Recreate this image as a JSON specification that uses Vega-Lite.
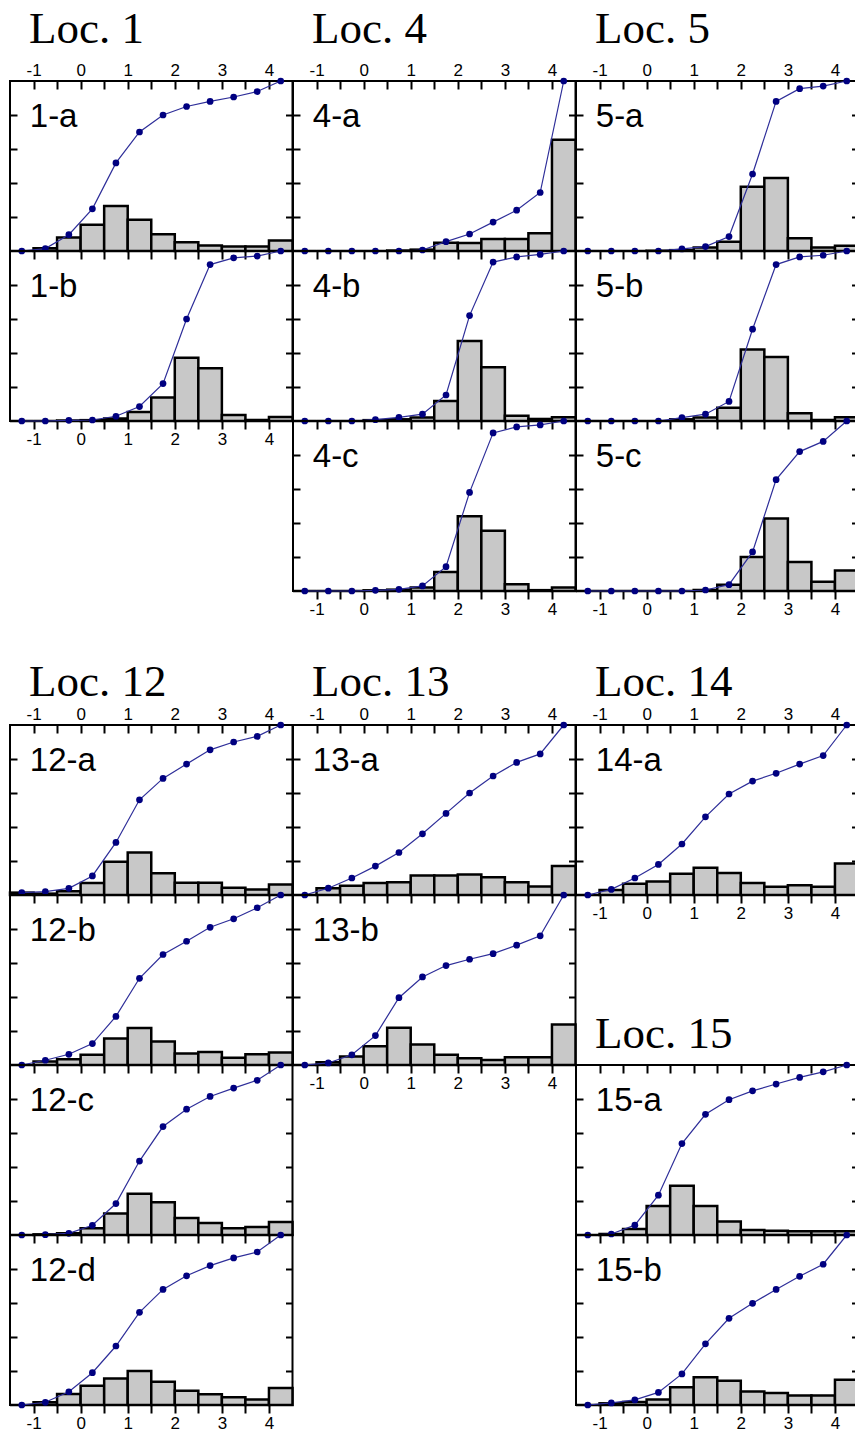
{
"$schema":"https://vega.github.io/schema/vega-lite/v6.json",
"padding":{"left":7,"top":6,"right":0,"bottom":0},
"background":"white",
"datasets":{"d":[
{"p":"1-a","lo":-1.5,"hi":-1,"m":-1.25,"h":0,"c":0},{"p":"1-a","lo":-1,"hi":-0.5,"m":-0.75,"h":1.6,"c":1.4},{"p":"1-a","lo":-0.5,"hi":0,"m":-0.25,"h":8,"c":9.6},{"p":"1-a","lo":0,"hi":0.5,"m":0.25,"h":15.4,"c":24.8},{"p":"1-a","lo":0.5,"hi":1,"m":0.75,"h":26.5,"c":51.8},{"p":"1-a","lo":1,"hi":1.5,"m":1.25,"h":18.4,"c":70},{"p":"1-a","lo":1.5,"hi":2,"m":1.75,"h":9.8,"c":80},{"p":"1-a","lo":2,"hi":2.5,"m":2.25,"h":5.2,"c":85},{"p":"1-a","lo":2.5,"hi":3,"m":2.75,"h":3.3,"c":88},{"p":"1-a","lo":3,"hi":3.5,"m":3.25,"h":2.6,"c":90.6},{"p":"1-a","lo":3.5,"hi":4,"m":3.75,"h":2.6,"c":93.8},{"p":"1-a","lo":4,"hi":4.5,"m":4.25,"h":6.2,"c":100},
{"p":"1-b","lo":-1.5,"hi":-1,"m":-1.25,"h":0,"c":0},{"p":"1-b","lo":-1,"hi":-0.5,"m":-0.75,"h":0,"c":0},{"p":"1-b","lo":-0.5,"hi":0,"m":-0.25,"h":0.3,"c":0.4},{"p":"1-b","lo":0,"hi":0.5,"m":0.25,"h":0.5,"c":0.6},{"p":"1-b","lo":0.5,"hi":1,"m":0.75,"h":1.5,"c":2.8},{"p":"1-b","lo":1,"hi":1.5,"m":1.25,"h":5.3,"c":8.5},{"p":"1-b","lo":1.5,"hi":2,"m":1.75,"h":13.8,"c":22},{"p":"1-b","lo":2,"hi":2.5,"m":2.25,"h":37.2,"c":60},{"p":"1-b","lo":2.5,"hi":3,"m":2.75,"h":31,"c":92},{"p":"1-b","lo":3,"hi":3.5,"m":3.25,"h":3.5,"c":96},{"p":"1-b","lo":3.5,"hi":4,"m":3.75,"h":0.6,"c":97},{"p":"1-b","lo":4,"hi":4.5,"m":4.25,"h":2.4,"c":100},
{"p":"4-a","lo":-1.5,"hi":-1,"m":-1.25,"h":0,"c":0},{"p":"4-a","lo":-1,"hi":-0.5,"m":-0.75,"h":0,"c":0},{"p":"4-a","lo":-0.5,"hi":0,"m":-0.25,"h":0,"c":0},{"p":"4-a","lo":0,"hi":0.5,"m":0.25,"h":0,"c":0},{"p":"4-a","lo":0.5,"hi":1,"m":0.75,"h":0.3,"c":0},{"p":"4-a","lo":1,"hi":1.5,"m":1.25,"h":0.8,"c":0.6},{"p":"4-a","lo":1.5,"hi":2,"m":1.75,"h":4.9,"c":5.5},{"p":"4-a","lo":2,"hi":2.5,"m":2.25,"h":4.7,"c":10},{"p":"4-a","lo":2.5,"hi":3,"m":2.75,"h":7,"c":17},{"p":"4-a","lo":3,"hi":3.5,"m":3.25,"h":7,"c":24},{"p":"4-a","lo":3.5,"hi":4,"m":3.75,"h":10.5,"c":34.4},{"p":"4-a","lo":4,"hi":4.5,"m":4.25,"h":65.5,"c":100},
{"p":"4-b","lo":-1.5,"hi":-1,"m":-1.25,"h":0,"c":0},{"p":"4-b","lo":-1,"hi":-0.5,"m":-0.75,"h":0,"c":0},{"p":"4-b","lo":-0.5,"hi":0,"m":-0.25,"h":0,"c":0},{"p":"4-b","lo":0,"hi":0.5,"m":0.25,"h":0.5,"c":0.8},{"p":"4-b","lo":0.5,"hi":1,"m":0.75,"h":1,"c":2.1},{"p":"4-b","lo":1,"hi":1.5,"m":1.25,"h":2,"c":4},{"p":"4-b","lo":1.5,"hi":2,"m":1.75,"h":11.7,"c":15.3},{"p":"4-b","lo":2,"hi":2.5,"m":2.25,"h":47,"c":62},{"p":"4-b","lo":2.5,"hi":3,"m":2.75,"h":31.6,"c":93.5},{"p":"4-b","lo":3,"hi":3.5,"m":3.25,"h":3.1,"c":96.5},{"p":"4-b","lo":3.5,"hi":4,"m":3.75,"h":1.2,"c":98},{"p":"4-b","lo":4,"hi":4.5,"m":4.25,"h":2.2,"c":100},
{"p":"4-c","lo":-1.5,"hi":-1,"m":-1.25,"h":0,"c":0},{"p":"4-c","lo":-1,"hi":-0.5,"m":-0.75,"h":0,"c":0},{"p":"4-c","lo":-0.5,"hi":0,"m":-0.25,"h":0,"c":0},{"p":"4-c","lo":0,"hi":0.5,"m":0.25,"h":0.4,"c":0.4},{"p":"4-c","lo":0.5,"hi":1,"m":0.75,"h":0.8,"c":1},{"p":"4-c","lo":1,"hi":1.5,"m":1.25,"h":2,"c":3},{"p":"4-c","lo":1.5,"hi":2,"m":1.75,"h":11.2,"c":14.3},{"p":"4-c","lo":2,"hi":2.5,"m":2.25,"h":44,"c":58},{"p":"4-c","lo":2.5,"hi":3,"m":2.75,"h":35.4,"c":93},{"p":"4-c","lo":3,"hi":3.5,"m":3.25,"h":4,"c":96.5},{"p":"4-c","lo":3.5,"hi":4,"m":3.75,"h":0.5,"c":97.7},{"p":"4-c","lo":4,"hi":4.5,"m":4.25,"h":2,"c":100},
{"p":"5-a","lo":-1.5,"hi":-1,"m":-1.25,"h":0,"c":0},{"p":"5-a","lo":-1,"hi":-0.5,"m":-0.75,"h":0,"c":0},{"p":"5-a","lo":-0.5,"hi":0,"m":-0.25,"h":0,"c":0},{"p":"5-a","lo":0,"hi":0.5,"m":0.25,"h":0.2,"c":0},{"p":"5-a","lo":0.5,"hi":1,"m":0.75,"h":0.5,"c":1.2},{"p":"5-a","lo":1,"hi":1.5,"m":1.25,"h":2,"c":2.6},{"p":"5-a","lo":1.5,"hi":2,"m":1.75,"h":5.5,"c":8.5},{"p":"5-a","lo":2,"hi":2.5,"m":2.25,"h":37.8,"c":45.3},{"p":"5-a","lo":2.5,"hi":3,"m":2.75,"h":43,"c":88},{"p":"5-a","lo":3,"hi":3.5,"m":3.25,"h":7.5,"c":95.5},{"p":"5-a","lo":3.5,"hi":4,"m":3.75,"h":2,"c":97},{"p":"5-a","lo":4,"hi":4.5,"m":4.25,"h":3.1,"c":100},
{"p":"5-b","lo":-1.5,"hi":-1,"m":-1.25,"h":0,"c":0},{"p":"5-b","lo":-1,"hi":-0.5,"m":-0.75,"h":0,"c":0},{"p":"5-b","lo":-0.5,"hi":0,"m":-0.25,"h":0,"c":0},{"p":"5-b","lo":0,"hi":0.5,"m":0.25,"h":0,"c":0},{"p":"5-b","lo":0.5,"hi":1,"m":0.75,"h":1,"c":2},{"p":"5-b","lo":1,"hi":1.5,"m":1.25,"h":2,"c":4},{"p":"5-b","lo":1.5,"hi":2,"m":1.75,"h":7.8,"c":11.5},{"p":"5-b","lo":2,"hi":2.5,"m":2.25,"h":42,"c":54},{"p":"5-b","lo":2.5,"hi":3,"m":2.75,"h":37.6,"c":92},{"p":"5-b","lo":3,"hi":3.5,"m":3.25,"h":4.5,"c":96.5},{"p":"5-b","lo":3.5,"hi":4,"m":3.75,"h":0.6,"c":97.5},{"p":"5-b","lo":4,"hi":4.5,"m":4.25,"h":2.2,"c":100},
{"p":"5-c","lo":-1.5,"hi":-1,"m":-1.25,"h":0,"c":0},{"p":"5-c","lo":-1,"hi":-0.5,"m":-0.75,"h":0,"c":0},{"p":"5-c","lo":-0.5,"hi":0,"m":-0.25,"h":0,"c":0},{"p":"5-c","lo":0,"hi":0.5,"m":0.25,"h":0,"c":0},{"p":"5-c","lo":0.5,"hi":1,"m":0.75,"h":0,"c":0},{"p":"5-c","lo":1,"hi":1.5,"m":1.25,"h":0.6,"c":0.6},{"p":"5-c","lo":1.5,"hi":2,"m":1.75,"h":3.7,"c":3.7},{"p":"5-c","lo":2,"hi":2.5,"m":2.25,"h":20,"c":23},{"p":"5-c","lo":2.5,"hi":3,"m":2.75,"h":42.7,"c":65.5},{"p":"5-c","lo":3,"hi":3.5,"m":3.25,"h":17,"c":82},{"p":"5-c","lo":3.5,"hi":4,"m":3.75,"h":5.5,"c":88},{"p":"5-c","lo":4,"hi":4.5,"m":4.25,"h":12,"c":100},
{"p":"12-a","lo":-1.5,"hi":-1,"m":-1.25,"h":1.4,"c":1.4},{"p":"12-a","lo":-1,"hi":-0.5,"m":-0.75,"h":0.8,"c":2},{"p":"12-a","lo":-0.5,"hi":0,"m":-0.25,"h":2.2,"c":3.9},{"p":"12-a","lo":0,"hi":0.5,"m":0.25,"h":7,"c":11.2},{"p":"12-a","lo":0.5,"hi":1,"m":0.75,"h":19.6,"c":30.9},{"p":"12-a","lo":1,"hi":1.5,"m":1.25,"h":25,"c":56},{"p":"12-a","lo":1.5,"hi":2,"m":1.75,"h":12.8,"c":68.6},{"p":"12-a","lo":2,"hi":2.5,"m":2.25,"h":7.2,"c":77},{"p":"12-a","lo":2.5,"hi":3,"m":2.75,"h":7.2,"c":85.4},{"p":"12-a","lo":3,"hi":3.5,"m":3.25,"h":4.3,"c":90},{"p":"12-a","lo":3.5,"hi":4,"m":3.75,"h":3.2,"c":93.3},{"p":"12-a","lo":4,"hi":4.5,"m":4.25,"h":6.2,"c":100},
{"p":"12-b","lo":-1.5,"hi":-1,"m":-1.25,"h":0,"c":0},{"p":"12-b","lo":-1,"hi":-0.5,"m":-0.75,"h":2,"c":2.8},{"p":"12-b","lo":-0.5,"hi":0,"m":-0.25,"h":3.4,"c":6.3},{"p":"12-b","lo":0,"hi":0.5,"m":0.25,"h":6,"c":12.6},{"p":"12-b","lo":0.5,"hi":1,"m":0.75,"h":15.6,"c":28.6},{"p":"12-b","lo":1,"hi":1.5,"m":1.25,"h":21.7,"c":51},{"p":"12-b","lo":1.5,"hi":2,"m":1.75,"h":13.8,"c":65},{"p":"12-b","lo":2,"hi":2.5,"m":2.25,"h":6.7,"c":72.8},{"p":"12-b","lo":2.5,"hi":3,"m":2.75,"h":7.7,"c":81},{"p":"12-b","lo":3,"hi":3.5,"m":3.25,"h":4.3,"c":86},{"p":"12-b","lo":3.5,"hi":4,"m":3.75,"h":6.3,"c":92.5},{"p":"12-b","lo":4,"hi":4.5,"m":4.25,"h":7.3,"c":100},
{"p":"12-c","lo":-1.5,"hi":-1,"m":-1.25,"h":0,"c":0},{"p":"12-c","lo":-1,"hi":-0.5,"m":-0.75,"h":0.4,"c":0.2},{"p":"12-c","lo":-0.5,"hi":0,"m":-0.25,"h":1,"c":1},{"p":"12-c","lo":0,"hi":0.5,"m":0.25,"h":4,"c":5.7},{"p":"12-c","lo":0.5,"hi":1,"m":0.75,"h":12.6,"c":18.5},{"p":"12-c","lo":1,"hi":1.5,"m":1.25,"h":24.2,"c":43.5},{"p":"12-c","lo":1.5,"hi":2,"m":1.75,"h":19.3,"c":63.8},{"p":"12-c","lo":2,"hi":2.5,"m":2.25,"h":10,"c":74},{"p":"12-c","lo":2.5,"hi":3,"m":2.75,"h":7,"c":81.5},{"p":"12-c","lo":3,"hi":3.5,"m":3.25,"h":4,"c":86.4},{"p":"12-c","lo":3.5,"hi":4,"m":3.75,"h":4.7,"c":91},{"p":"12-c","lo":4,"hi":4.5,"m":4.25,"h":7.7,"c":100},
{"p":"12-d","lo":-1.5,"hi":-1,"m":-1.25,"h":0,"c":0},{"p":"12-d","lo":-1,"hi":-0.5,"m":-0.75,"h":1.6,"c":1.6},{"p":"12-d","lo":-0.5,"hi":0,"m":-0.25,"h":6.4,"c":7.8},{"p":"12-d","lo":0,"hi":0.5,"m":0.25,"h":11.3,"c":19},{"p":"12-d","lo":0.5,"hi":1,"m":0.75,"h":15.6,"c":34.7},{"p":"12-d","lo":1,"hi":1.5,"m":1.25,"h":20,"c":54.5},{"p":"12-d","lo":1.5,"hi":2,"m":1.75,"h":13.7,"c":68},{"p":"12-d","lo":2,"hi":2.5,"m":2.25,"h":8.4,"c":76},{"p":"12-d","lo":2.5,"hi":3,"m":2.75,"h":6.3,"c":82},{"p":"12-d","lo":3,"hi":3.5,"m":3.25,"h":4.5,"c":86.5},{"p":"12-d","lo":3.5,"hi":4,"m":3.75,"h":3.3,"c":90},{"p":"12-d","lo":4,"hi":4.5,"m":4.25,"h":10,"c":100},
{"p":"13-a","lo":-1.5,"hi":-1,"m":-1.25,"h":0,"c":0},{"p":"13-a","lo":-1,"hi":-0.5,"m":-0.75,"h":4,"c":4},{"p":"13-a","lo":-0.5,"hi":0,"m":-0.25,"h":5.5,"c":10},{"p":"13-a","lo":0,"hi":0.5,"m":0.25,"h":7,"c":17},{"p":"13-a","lo":0.5,"hi":1,"m":0.75,"h":7.5,"c":25},{"p":"13-a","lo":1,"hi":1.5,"m":1.25,"h":11.5,"c":36},{"p":"13-a","lo":1.5,"hi":2,"m":1.75,"h":11.5,"c":48},{"p":"13-a","lo":2,"hi":2.5,"m":2.25,"h":12,"c":60},{"p":"13-a","lo":2.5,"hi":3,"m":2.75,"h":10.5,"c":70},{"p":"13-a","lo":3,"hi":3.5,"m":3.25,"h":7.5,"c":78},{"p":"13-a","lo":3.5,"hi":4,"m":3.75,"h":5,"c":83},{"p":"13-a","lo":4,"hi":4.5,"m":4.25,"h":17,"c":100},
{"p":"13-b","lo":-1.5,"hi":-1,"m":-1.25,"h":0,"c":0},{"p":"13-b","lo":-1,"hi":-0.5,"m":-0.75,"h":1.6,"c":1.2},{"p":"13-b","lo":-0.5,"hi":0,"m":-0.25,"h":5,"c":6},{"p":"13-b","lo":0,"hi":0.5,"m":0.25,"h":11,"c":17.3},{"p":"13-b","lo":0.5,"hi":1,"m":0.75,"h":21.9,"c":39.6},{"p":"13-b","lo":1,"hi":1.5,"m":1.25,"h":12,"c":51.8},{"p":"13-b","lo":1.5,"hi":2,"m":1.75,"h":6,"c":58.5},{"p":"13-b","lo":2,"hi":2.5,"m":2.25,"h":4,"c":62.2},{"p":"13-b","lo":2.5,"hi":3,"m":2.75,"h":3,"c":65.5},{"p":"13-b","lo":3,"hi":3.5,"m":3.25,"h":4.5,"c":70.5},{"p":"13-b","lo":3.5,"hi":4,"m":3.75,"h":4.5,"c":76},{"p":"13-b","lo":4,"hi":4.5,"m":4.25,"h":23.8,"c":100},
{"p":"14-a","lo":-1.5,"hi":-1,"m":-1.25,"h":0,"c":0},{"p":"14-a","lo":-1,"hi":-0.5,"m":-0.75,"h":3,"c":3.3},{"p":"14-a","lo":-0.5,"hi":0,"m":-0.25,"h":6.6,"c":10},{"p":"14-a","lo":0,"hi":0.5,"m":0.25,"h":8,"c":18},{"p":"14-a","lo":0.5,"hi":1,"m":0.75,"h":12.5,"c":30},{"p":"14-a","lo":1,"hi":1.5,"m":1.25,"h":16,"c":46},{"p":"14-a","lo":1.5,"hi":2,"m":1.75,"h":13,"c":59.4},{"p":"14-a","lo":2,"hi":2.5,"m":2.25,"h":7,"c":67},{"p":"14-a","lo":2.5,"hi":3,"m":2.75,"h":4.8,"c":71.6},{"p":"14-a","lo":3,"hi":3.5,"m":3.25,"h":5.7,"c":77},{"p":"14-a","lo":3.5,"hi":4,"m":3.75,"h":4.8,"c":82},{"p":"14-a","lo":4,"hi":4.5,"m":4.25,"h":18.5,"c":100},
{"p":"15-a","lo":-1.5,"hi":-1,"m":-1.25,"h":0,"c":0},{"p":"15-a","lo":-1,"hi":-0.5,"m":-0.75,"h":0.6,"c":0.6},{"p":"15-a","lo":-0.5,"hi":0,"m":-0.25,"h":3.5,"c":5.8},{"p":"15-a","lo":0,"hi":0.5,"m":0.25,"h":17,"c":23.4},{"p":"15-a","lo":0.5,"hi":1,"m":0.75,"h":29,"c":53.8},{"p":"15-a","lo":1,"hi":1.5,"m":1.25,"h":17,"c":71},{"p":"15-a","lo":1.5,"hi":2,"m":1.75,"h":8,"c":79.6},{"p":"15-a","lo":2,"hi":2.5,"m":2.25,"h":3,"c":84.8},{"p":"15-a","lo":2.5,"hi":3,"m":2.75,"h":2.5,"c":88.8},{"p":"15-a","lo":3,"hi":3.5,"m":3.25,"h":2.2,"c":92.7},{"p":"15-a","lo":3.5,"hi":4,"m":3.75,"h":2.2,"c":96},{"p":"15-a","lo":4,"hi":4.5,"m":4.25,"h":2.2,"c":100},
{"p":"15-b","lo":-1.5,"hi":-1,"m":-1.25,"h":0,"c":0},{"p":"15-b","lo":-1,"hi":-0.5,"m":-0.75,"h":1,"c":1.2},{"p":"15-b","lo":-0.5,"hi":0,"m":-0.25,"h":1.8,"c":3},{"p":"15-b","lo":0,"hi":0.5,"m":0.25,"h":3.3,"c":7.4},{"p":"15-b","lo":0.5,"hi":1,"m":0.75,"h":10.4,"c":18.3},{"p":"15-b","lo":1,"hi":1.5,"m":1.25,"h":16.3,"c":36},{"p":"15-b","lo":1.5,"hi":2,"m":1.75,"h":14.2,"c":51},{"p":"15-b","lo":2,"hi":2.5,"m":2.25,"h":8,"c":59.8},{"p":"15-b","lo":2.5,"hi":3,"m":2.75,"h":7.1,"c":68},{"p":"15-b","lo":3,"hi":3.5,"m":3.25,"h":5.6,"c":75.7},{"p":"15-b","lo":3.5,"hi":4,"m":3.75,"h":5.6,"c":82.8},{"p":"15-b","lo":4,"hi":4.5,"m":4.25,"h":14.8,"c":100}
]},
"config":{
"view":{"stroke":"black","strokeWidth":2},
"axis":{"domain":false,"grid":false,"tickColor":"black","tickWidth":2,"labelFont":"Liberation Sans","labelFontSize":17,"labelColor":"black","zindex":1,"labelFlush":false,"labelOverlap":false},
"axisTop":{"tickSize":-8,"labelPadding":10},
"axisBottom":{"tickSize":8,"labelPadding":2},
"axisLeft":{"tickSize":-7,"labels":false,"minExtent":0,"maxExtent":0},
"axisRight":{"tickSize":-7,"labels":false,"minExtent":0,"maxExtent":0},
"title":{"font":"Liberation Serif","fontSize":45,"fontWeight":"normal","anchor":"start","frame":"group","dx":19,"color":"black","baseline":"alphabetic"}
},
"spacing":41,
"vconcat":[
{"columns":3,"spacing":0,"bounds":"flush","concat":[
{"title":{"text":"Loc. 1","offset":9},"width":282.5,"height":170,"data":{"name":"d"},"transform":[{"filter":"datum.p=='1-a'"}],"layer":[
{"mark":{"type":"rect","fill":"#c8c8c8","stroke":"black","strokeWidth":2.5},"encoding":{"x":{"field":"lo","type":"quantitative","scale":{"domain":[-1.5,4.5],"nice":false},"axis":{"orient":"top","values":[-1,-0.5,0,0.5,1,1.5,2,2.5,3,3.5,4],"labelExpr":"datum.value % 1 == 0 ? '' + datum.value : ''","title":null}},"x2":{"field":"hi"},"y":{"field":"h","type":"quantitative","scale":{"domain":[0,100],"nice":false},"axis":{"orient":"left","values":[20,40,60,80],"title":null}},"y2":{"datum":0}}},
{"mark":{"type":"line","color":"#2e2e99","strokeWidth":1.2},"encoding":{"x":{"field":"m","type":"quantitative","scale":{"domain":[-1.5,4.5],"nice":false},"axis":null},"y":{"field":"c","type":"quantitative","scale":{"domain":[0,100],"nice":false},"axis":{"orient":"right","values":[20,40,60,80],"title":null}}}},
{"mark":{"type":"point","filled":true,"color":"#000080","size":45,"opacity":1},"encoding":{"x":{"field":"m","type":"quantitative","axis":null},"y":{"field":"c","type":"quantitative","axis":null}}},
{"data":{"values":[{"t":"1-a"}]},"mark":{"type":"text","font":"Liberation Sans","fontSize":33,"align":"left","baseline":"middle","color":"black"},"encoding":{"text":{"field":"t"},"x":{"datum":-1.08,"axis":null},"y":{"datum":79,"axis":null}}}
],"resolve":{"axis":{"x":"independent","y":"independent"}}},
{"title":{"text":"Loc. 4","offset":9},"width":282.5,"height":170,"data":{"name":"d"},"transform":[{"filter":"datum.p=='4-a'"}],"layer":[
{"mark":{"type":"rect","fill":"#c8c8c8","stroke":"black","strokeWidth":2.5},"encoding":{"x":{"field":"lo","type":"quantitative","scale":{"domain":[-1.5,4.5],"nice":false},"axis":{"orient":"top","values":[-1,-0.5,0,0.5,1,1.5,2,2.5,3,3.5,4],"labelExpr":"datum.value % 1 == 0 ? '' + datum.value : ''","title":null}},"x2":{"field":"hi"},"y":{"field":"h","type":"quantitative","scale":{"domain":[0,100],"nice":false},"axis":{"orient":"left","values":[20,40,60,80],"title":null}},"y2":{"datum":0}}},
{"mark":{"type":"line","color":"#2e2e99","strokeWidth":1.2},"encoding":{"x":{"field":"m","type":"quantitative","scale":{"domain":[-1.5,4.5],"nice":false},"axis":null},"y":{"field":"c","type":"quantitative","scale":{"domain":[0,100],"nice":false},"axis":{"orient":"right","values":[20,40,60,80],"title":null}}}},
{"mark":{"type":"point","filled":true,"color":"#000080","size":45,"opacity":1},"encoding":{"x":{"field":"m","type":"quantitative","axis":null},"y":{"field":"c","type":"quantitative","axis":null}}},
{"data":{"values":[{"t":"4-a"}]},"mark":{"type":"text","font":"Liberation Sans","fontSize":33,"align":"left","baseline":"middle","color":"black"},"encoding":{"text":{"field":"t"},"x":{"datum":-1.08,"axis":null},"y":{"datum":79,"axis":null}}}
],"resolve":{"axis":{"x":"independent","y":"independent"}}},
{"title":{"text":"Loc. 5","offset":9},"width":282.5,"height":170,"data":{"name":"d"},"transform":[{"filter":"datum.p=='5-a'"}],"layer":[
{"mark":{"type":"rect","fill":"#c8c8c8","stroke":"black","strokeWidth":2.5},"encoding":{"x":{"field":"lo","type":"quantitative","scale":{"domain":[-1.5,4.5],"nice":false},"axis":{"orient":"top","values":[-1,-0.5,0,0.5,1,1.5,2,2.5,3,3.5,4],"labelExpr":"datum.value % 1 == 0 ? '' + datum.value : ''","title":null}},"x2":{"field":"hi"},"y":{"field":"h","type":"quantitative","scale":{"domain":[0,100],"nice":false},"axis":{"orient":"left","values":[20,40,60,80],"title":null}},"y2":{"datum":0}}},
{"mark":{"type":"line","color":"#2e2e99","strokeWidth":1.2},"encoding":{"x":{"field":"m","type":"quantitative","scale":{"domain":[-1.5,4.5],"nice":false},"axis":null},"y":{"field":"c","type":"quantitative","scale":{"domain":[0,100],"nice":false},"axis":{"orient":"right","values":[20,40,60,80],"title":null}}}},
{"mark":{"type":"point","filled":true,"color":"#000080","size":45,"opacity":1},"encoding":{"x":{"field":"m","type":"quantitative","axis":null},"y":{"field":"c","type":"quantitative","axis":null}}},
{"data":{"values":[{"t":"5-a"}]},"mark":{"type":"text","font":"Liberation Sans","fontSize":33,"align":"left","baseline":"middle","color":"black"},"encoding":{"text":{"field":"t"},"x":{"datum":-1.08,"axis":null},"y":{"datum":79,"axis":null}}}
],"resolve":{"axis":{"x":"independent","y":"independent"}}},
{"width":282.5,"height":170,"data":{"name":"d"},"transform":[{"filter":"datum.p=='1-b'"}],"layer":[
{"mark":{"type":"rect","fill":"#c8c8c8","stroke":"black","strokeWidth":2.5},"encoding":{"x":{"field":"lo","type":"quantitative","scale":{"domain":[-1.5,4.5],"nice":false},"axis":{"orient":"top","values":[-1,-0.5,0,0.5,1,1.5,2,2.5,3,3.5,4],"labels":false,"title":null}},"x2":{"field":"hi"},"y":{"field":"h","type":"quantitative","scale":{"domain":[0,100],"nice":false},"axis":{"orient":"left","values":[20,40,60,80],"title":null}},"y2":{"datum":0}}},
{"mark":{"type":"line","color":"#2e2e99","strokeWidth":1.2},"encoding":{"x":{"field":"m","type":"quantitative","scale":{"domain":[-1.5,4.5],"nice":false},"axis":{"orient":"bottom","values":[-1,-0.5,0,0.5,1,1.5,2,2.5,3,3.5,4],"labelExpr":"datum.value % 1 == 0 ? '' + datum.value : ''","title":null}},"y":{"field":"c","type":"quantitative","scale":{"domain":[0,100],"nice":false},"axis":{"orient":"right","values":[20,40,60,80],"title":null}}}},
{"mark":{"type":"point","filled":true,"color":"#000080","size":45,"opacity":1},"encoding":{"x":{"field":"m","type":"quantitative","axis":null},"y":{"field":"c","type":"quantitative","axis":null}}},
{"data":{"values":[{"t":"1-b"}]},"mark":{"type":"text","font":"Liberation Sans","fontSize":33,"align":"left","baseline":"middle","color":"black"},"encoding":{"text":{"field":"t"},"x":{"datum":-1.08,"axis":null},"y":{"datum":79,"axis":null}}}
],"resolve":{"axis":{"x":"independent","y":"independent"}}},
{"width":282.5,"height":170,"data":{"name":"d"},"transform":[{"filter":"datum.p=='4-b'"}],"layer":[
{"mark":{"type":"rect","fill":"#c8c8c8","stroke":"black","strokeWidth":2.5},"encoding":{"x":{"field":"lo","type":"quantitative","scale":{"domain":[-1.5,4.5],"nice":false},"axis":{"orient":"top","values":[-1,-0.5,0,0.5,1,1.5,2,2.5,3,3.5,4],"labels":false,"title":null}},"x2":{"field":"hi"},"y":{"field":"h","type":"quantitative","scale":{"domain":[0,100],"nice":false},"axis":{"orient":"left","values":[20,40,60,80],"title":null}},"y2":{"datum":0}}},
{"mark":{"type":"line","color":"#2e2e99","strokeWidth":1.2},"encoding":{"x":{"field":"m","type":"quantitative","scale":{"domain":[-1.5,4.5],"nice":false},"axis":null},"y":{"field":"c","type":"quantitative","scale":{"domain":[0,100],"nice":false},"axis":{"orient":"right","values":[20,40,60,80],"title":null}}}},
{"mark":{"type":"point","filled":true,"color":"#000080","size":45,"opacity":1},"encoding":{"x":{"field":"m","type":"quantitative","axis":null},"y":{"field":"c","type":"quantitative","axis":null}}},
{"data":{"values":[{"t":"4-b"}]},"mark":{"type":"text","font":"Liberation Sans","fontSize":33,"align":"left","baseline":"middle","color":"black"},"encoding":{"text":{"field":"t"},"x":{"datum":-1.08,"axis":null},"y":{"datum":79,"axis":null}}}
],"resolve":{"axis":{"x":"independent","y":"independent"}}},
{"width":282.5,"height":170,"data":{"name":"d"},"transform":[{"filter":"datum.p=='5-b'"}],"layer":[
{"mark":{"type":"rect","fill":"#c8c8c8","stroke":"black","strokeWidth":2.5},"encoding":{"x":{"field":"lo","type":"quantitative","scale":{"domain":[-1.5,4.5],"nice":false},"axis":{"orient":"top","values":[-1,-0.5,0,0.5,1,1.5,2,2.5,3,3.5,4],"labels":false,"title":null}},"x2":{"field":"hi"},"y":{"field":"h","type":"quantitative","scale":{"domain":[0,100],"nice":false},"axis":{"orient":"left","values":[20,40,60,80],"title":null}},"y2":{"datum":0}}},
{"mark":{"type":"line","color":"#2e2e99","strokeWidth":1.2},"encoding":{"x":{"field":"m","type":"quantitative","scale":{"domain":[-1.5,4.5],"nice":false},"axis":null},"y":{"field":"c","type":"quantitative","scale":{"domain":[0,100],"nice":false},"axis":{"orient":"right","values":[20,40,60,80],"title":null}}}},
{"mark":{"type":"point","filled":true,"color":"#000080","size":45,"opacity":1},"encoding":{"x":{"field":"m","type":"quantitative","axis":null},"y":{"field":"c","type":"quantitative","axis":null}}},
{"data":{"values":[{"t":"5-b"}]},"mark":{"type":"text","font":"Liberation Sans","fontSize":33,"align":"left","baseline":"middle","color":"black"},"encoding":{"text":{"field":"t"},"x":{"datum":-1.08,"axis":null},"y":{"datum":79,"axis":null}}}
],"resolve":{"axis":{"x":"independent","y":"independent"}}},
{"width":282.5,"height":170,"view":{"stroke":null},"data":{"values":[]},"mark":{"type":"point"},"encoding":{}},
{"width":282.5,"height":170,"data":{"name":"d"},"transform":[{"filter":"datum.p=='4-c'"}],"layer":[
{"mark":{"type":"rect","fill":"#c8c8c8","stroke":"black","strokeWidth":2.5},"encoding":{"x":{"field":"lo","type":"quantitative","scale":{"domain":[-1.5,4.5],"nice":false},"axis":{"orient":"top","values":[-1,-0.5,0,0.5,1,1.5,2,2.5,3,3.5,4],"labels":false,"title":null}},"x2":{"field":"hi"},"y":{"field":"h","type":"quantitative","scale":{"domain":[0,100],"nice":false},"axis":{"orient":"left","values":[20,40,60,80],"title":null}},"y2":{"datum":0}}},
{"mark":{"type":"line","color":"#2e2e99","strokeWidth":1.2},"encoding":{"x":{"field":"m","type":"quantitative","scale":{"domain":[-1.5,4.5],"nice":false},"axis":{"orient":"bottom","values":[-1,-0.5,0,0.5,1,1.5,2,2.5,3,3.5,4],"labelExpr":"datum.value % 1 == 0 ? '' + datum.value : ''","title":null}},"y":{"field":"c","type":"quantitative","scale":{"domain":[0,100],"nice":false},"axis":{"orient":"right","values":[20,40,60,80],"title":null}}}},
{"mark":{"type":"point","filled":true,"color":"#000080","size":45,"opacity":1},"encoding":{"x":{"field":"m","type":"quantitative","axis":null},"y":{"field":"c","type":"quantitative","axis":null}}},
{"data":{"values":[{"t":"4-c"}]},"mark":{"type":"text","font":"Liberation Sans","fontSize":33,"align":"left","baseline":"middle","color":"black"},"encoding":{"text":{"field":"t"},"x":{"datum":-1.08,"axis":null},"y":{"datum":79,"axis":null}}}
],"resolve":{"axis":{"x":"independent","y":"independent"}}},
{"width":282.5,"height":170,"data":{"name":"d"},"transform":[{"filter":"datum.p=='5-c'"}],"layer":[
{"mark":{"type":"rect","fill":"#c8c8c8","stroke":"black","strokeWidth":2.5},"encoding":{"x":{"field":"lo","type":"quantitative","scale":{"domain":[-1.5,4.5],"nice":false},"axis":{"orient":"top","values":[-1,-0.5,0,0.5,1,1.5,2,2.5,3,3.5,4],"labels":false,"title":null}},"x2":{"field":"hi"},"y":{"field":"h","type":"quantitative","scale":{"domain":[0,100],"nice":false},"axis":{"orient":"left","values":[20,40,60,80],"title":null}},"y2":{"datum":0}}},
{"mark":{"type":"line","color":"#2e2e99","strokeWidth":1.2},"encoding":{"x":{"field":"m","type":"quantitative","scale":{"domain":[-1.5,4.5],"nice":false},"axis":{"orient":"bottom","values":[-1,-0.5,0,0.5,1,1.5,2,2.5,3,3.5,4],"labelExpr":"datum.value % 1 == 0 ? '' + datum.value : ''","title":null}},"y":{"field":"c","type":"quantitative","scale":{"domain":[0,100],"nice":false},"axis":{"orient":"right","values":[20,40,60,80],"title":null}}}},
{"mark":{"type":"point","filled":true,"color":"#000080","size":45,"opacity":1},"encoding":{"x":{"field":"m","type":"quantitative","axis":null},"y":{"field":"c","type":"quantitative","axis":null}}},
{"data":{"values":[{"t":"5-c"}]},"mark":{"type":"text","font":"Liberation Sans","fontSize":33,"align":"left","baseline":"middle","color":"black"},"encoding":{"text":{"field":"t"},"x":{"datum":-1.08,"axis":null},"y":{"datum":79,"axis":null}}}
],"resolve":{"axis":{"x":"independent","y":"independent"}}}
]},
{"columns":3,"spacing":0,"bounds":"flush","concat":[
{"title":{"text":"Loc. 12","offset":0},"width":282.5,"height":170,"data":{"name":"d"},"transform":[{"filter":"datum.p=='12-a'"}],"layer":[
{"mark":{"type":"rect","fill":"#c8c8c8","stroke":"black","strokeWidth":2.5},"encoding":{"x":{"field":"lo","type":"quantitative","scale":{"domain":[-1.5,4.5],"nice":false},"axis":{"orient":"top","values":[-1,-0.5,0,0.5,1,1.5,2,2.5,3,3.5,4],"labelExpr":"datum.value % 1 == 0 ? '' + datum.value : ''","title":null}},"x2":{"field":"hi"},"y":{"field":"h","type":"quantitative","scale":{"domain":[0,100],"nice":false},"axis":{"orient":"left","values":[20,40,60,80],"title":null}},"y2":{"datum":0}}},
{"mark":{"type":"line","color":"#2e2e99","strokeWidth":1.2},"encoding":{"x":{"field":"m","type":"quantitative","scale":{"domain":[-1.5,4.5],"nice":false},"axis":null},"y":{"field":"c","type":"quantitative","scale":{"domain":[0,100],"nice":false},"axis":{"orient":"right","values":[20,40,60,80],"title":null}}}},
{"mark":{"type":"point","filled":true,"color":"#000080","size":45,"opacity":1},"encoding":{"x":{"field":"m","type":"quantitative","axis":null},"y":{"field":"c","type":"quantitative","axis":null}}},
{"data":{"values":[{"t":"12-a"}]},"mark":{"type":"text","font":"Liberation Sans","fontSize":33,"align":"left","baseline":"middle","color":"black"},"encoding":{"text":{"field":"t"},"x":{"datum":-1.08,"axis":null},"y":{"datum":79,"axis":null}}}
],"resolve":{"axis":{"x":"independent","y":"independent"}}},
{"title":{"text":"Loc. 13","offset":0},"width":282.5,"height":170,"data":{"name":"d"},"transform":[{"filter":"datum.p=='13-a'"}],"layer":[
{"mark":{"type":"rect","fill":"#c8c8c8","stroke":"black","strokeWidth":2.5},"encoding":{"x":{"field":"lo","type":"quantitative","scale":{"domain":[-1.5,4.5],"nice":false},"axis":{"orient":"top","values":[-1,-0.5,0,0.5,1,1.5,2,2.5,3,3.5,4],"labelExpr":"datum.value % 1 == 0 ? '' + datum.value : ''","title":null}},"x2":{"field":"hi"},"y":{"field":"h","type":"quantitative","scale":{"domain":[0,100],"nice":false},"axis":{"orient":"left","values":[20,40,60,80],"title":null}},"y2":{"datum":0}}},
{"mark":{"type":"line","color":"#2e2e99","strokeWidth":1.2},"encoding":{"x":{"field":"m","type":"quantitative","scale":{"domain":[-1.5,4.5],"nice":false},"axis":null},"y":{"field":"c","type":"quantitative","scale":{"domain":[0,100],"nice":false},"axis":{"orient":"right","values":[20,40,60,80],"title":null}}}},
{"mark":{"type":"point","filled":true,"color":"#000080","size":45,"opacity":1},"encoding":{"x":{"field":"m","type":"quantitative","axis":null},"y":{"field":"c","type":"quantitative","axis":null}}},
{"data":{"values":[{"t":"13-a"}]},"mark":{"type":"text","font":"Liberation Sans","fontSize":33,"align":"left","baseline":"middle","color":"black"},"encoding":{"text":{"field":"t"},"x":{"datum":-1.08,"axis":null},"y":{"datum":79,"axis":null}}}
],"resolve":{"axis":{"x":"independent","y":"independent"}}},
{"title":{"text":"Loc. 14","offset":0},"width":282.5,"height":170,"data":{"name":"d"},"transform":[{"filter":"datum.p=='14-a'"}],"layer":[
{"mark":{"type":"rect","fill":"#c8c8c8","stroke":"black","strokeWidth":2.5},"encoding":{"x":{"field":"lo","type":"quantitative","scale":{"domain":[-1.5,4.5],"nice":false},"axis":{"orient":"top","values":[-1,-0.5,0,0.5,1,1.5,2,2.5,3,3.5,4],"labelExpr":"datum.value % 1 == 0 ? '' + datum.value : ''","title":null}},"x2":{"field":"hi"},"y":{"field":"h","type":"quantitative","scale":{"domain":[0,100],"nice":false},"axis":{"orient":"left","values":[20,40,60,80],"title":null}},"y2":{"datum":0}}},
{"mark":{"type":"line","color":"#2e2e99","strokeWidth":1.2},"encoding":{"x":{"field":"m","type":"quantitative","scale":{"domain":[-1.5,4.5],"nice":false},"axis":{"orient":"bottom","values":[-1,-0.5,0,0.5,1,1.5,2,2.5,3,3.5,4],"labelExpr":"datum.value % 1 == 0 ? '' + datum.value : ''","title":null}},"y":{"field":"c","type":"quantitative","scale":{"domain":[0,100],"nice":false},"axis":{"orient":"right","values":[20,40,60,80],"title":null}}}},
{"mark":{"type":"point","filled":true,"color":"#000080","size":45,"opacity":1},"encoding":{"x":{"field":"m","type":"quantitative","axis":null},"y":{"field":"c","type":"quantitative","axis":null}}},
{"data":{"values":[{"t":"14-a"}]},"mark":{"type":"text","font":"Liberation Sans","fontSize":33,"align":"left","baseline":"middle","color":"black"},"encoding":{"text":{"field":"t"},"x":{"datum":-1.08,"axis":null},"y":{"datum":79,"axis":null}}}
],"resolve":{"axis":{"x":"independent","y":"independent"}}},
{"width":282.5,"height":170,"data":{"name":"d"},"transform":[{"filter":"datum.p=='12-b'"}],"layer":[
{"mark":{"type":"rect","fill":"#c8c8c8","stroke":"black","strokeWidth":2.5},"encoding":{"x":{"field":"lo","type":"quantitative","scale":{"domain":[-1.5,4.5],"nice":false},"axis":{"orient":"top","values":[-1,-0.5,0,0.5,1,1.5,2,2.5,3,3.5,4],"labels":false,"title":null}},"x2":{"field":"hi"},"y":{"field":"h","type":"quantitative","scale":{"domain":[0,100],"nice":false},"axis":{"orient":"left","values":[20,40,60,80],"title":null}},"y2":{"datum":0}}},
{"mark":{"type":"line","color":"#2e2e99","strokeWidth":1.2},"encoding":{"x":{"field":"m","type":"quantitative","scale":{"domain":[-1.5,4.5],"nice":false},"axis":null},"y":{"field":"c","type":"quantitative","scale":{"domain":[0,100],"nice":false},"axis":{"orient":"right","values":[20,40,60,80],"title":null}}}},
{"mark":{"type":"point","filled":true,"color":"#000080","size":45,"opacity":1},"encoding":{"x":{"field":"m","type":"quantitative","axis":null},"y":{"field":"c","type":"quantitative","axis":null}}},
{"data":{"values":[{"t":"12-b"}]},"mark":{"type":"text","font":"Liberation Sans","fontSize":33,"align":"left","baseline":"middle","color":"black"},"encoding":{"text":{"field":"t"},"x":{"datum":-1.08,"axis":null},"y":{"datum":79,"axis":null}}}
],"resolve":{"axis":{"x":"independent","y":"independent"}}},
{"width":282.5,"height":170,"data":{"name":"d"},"transform":[{"filter":"datum.p=='13-b'"}],"layer":[
{"mark":{"type":"rect","fill":"#c8c8c8","stroke":"black","strokeWidth":2.5},"encoding":{"x":{"field":"lo","type":"quantitative","scale":{"domain":[-1.5,4.5],"nice":false},"axis":{"orient":"top","values":[-1,-0.5,0,0.5,1,1.5,2,2.5,3,3.5,4],"labels":false,"title":null}},"x2":{"field":"hi"},"y":{"field":"h","type":"quantitative","scale":{"domain":[0,100],"nice":false},"axis":{"orient":"left","values":[20,40,60,80],"title":null}},"y2":{"datum":0}}},
{"mark":{"type":"line","color":"#2e2e99","strokeWidth":1.2},"encoding":{"x":{"field":"m","type":"quantitative","scale":{"domain":[-1.5,4.5],"nice":false},"axis":{"orient":"bottom","values":[-1,-0.5,0,0.5,1,1.5,2,2.5,3,3.5,4],"labelExpr":"datum.value % 1 == 0 ? '' + datum.value : ''","title":null}},"y":{"field":"c","type":"quantitative","scale":{"domain":[0,100],"nice":false},"axis":{"orient":"right","values":[20,40,60,80],"title":null}}}},
{"mark":{"type":"point","filled":true,"color":"#000080","size":45,"opacity":1},"encoding":{"x":{"field":"m","type":"quantitative","axis":null},"y":{"field":"c","type":"quantitative","axis":null}}},
{"data":{"values":[{"t":"13-b"}]},"mark":{"type":"text","font":"Liberation Sans","fontSize":33,"align":"left","baseline":"middle","color":"black"},"encoding":{"text":{"field":"t"},"x":{"datum":-1.08,"axis":null},"y":{"datum":79,"axis":null}}}
],"resolve":{"axis":{"x":"independent","y":"independent"}}},
{"width":282.5,"height":170,"view":{"stroke":null},"data":{"values":[]},"mark":{"type":"point"},"encoding":{}},
{"width":282.5,"height":170,"data":{"name":"d"},"transform":[{"filter":"datum.p=='12-c'"}],"layer":[
{"mark":{"type":"rect","fill":"#c8c8c8","stroke":"black","strokeWidth":2.5},"encoding":{"x":{"field":"lo","type":"quantitative","scale":{"domain":[-1.5,4.5],"nice":false},"axis":{"orient":"top","values":[-1,-0.5,0,0.5,1,1.5,2,2.5,3,3.5,4],"labels":false,"title":null}},"x2":{"field":"hi"},"y":{"field":"h","type":"quantitative","scale":{"domain":[0,100],"nice":false},"axis":{"orient":"left","values":[20,40,60,80],"title":null}},"y2":{"datum":0}}},
{"mark":{"type":"line","color":"#2e2e99","strokeWidth":1.2},"encoding":{"x":{"field":"m","type":"quantitative","scale":{"domain":[-1.5,4.5],"nice":false},"axis":null},"y":{"field":"c","type":"quantitative","scale":{"domain":[0,100],"nice":false},"axis":{"orient":"right","values":[20,40,60,80],"title":null}}}},
{"mark":{"type":"point","filled":true,"color":"#000080","size":45,"opacity":1},"encoding":{"x":{"field":"m","type":"quantitative","axis":null},"y":{"field":"c","type":"quantitative","axis":null}}},
{"data":{"values":[{"t":"12-c"}]},"mark":{"type":"text","font":"Liberation Sans","fontSize":33,"align":"left","baseline":"middle","color":"black"},"encoding":{"text":{"field":"t"},"x":{"datum":-1.08,"axis":null},"y":{"datum":79,"axis":null}}}
],"resolve":{"axis":{"x":"independent","y":"independent"}}},
{"width":282.5,"height":170,"view":{"stroke":null},"data":{"values":[]},"mark":{"type":"point"},"encoding":{}},
{"title":{"text":"Loc. 15","offset":5},"width":282.5,"height":170,"data":{"name":"d"},"transform":[{"filter":"datum.p=='15-a'"}],"layer":[
{"mark":{"type":"rect","fill":"#c8c8c8","stroke":"black","strokeWidth":2.5},"encoding":{"x":{"field":"lo","type":"quantitative","scale":{"domain":[-1.5,4.5],"nice":false},"axis":{"orient":"top","values":[-1,-0.5,0,0.5,1,1.5,2,2.5,3,3.5,4],"labels":false,"title":null}},"x2":{"field":"hi"},"y":{"field":"h","type":"quantitative","scale":{"domain":[0,100],"nice":false},"axis":{"orient":"left","values":[20,40,60,80],"title":null}},"y2":{"datum":0}}},
{"mark":{"type":"line","color":"#2e2e99","strokeWidth":1.2},"encoding":{"x":{"field":"m","type":"quantitative","scale":{"domain":[-1.5,4.5],"nice":false},"axis":null},"y":{"field":"c","type":"quantitative","scale":{"domain":[0,100],"nice":false},"axis":{"orient":"right","values":[20,40,60,80],"title":null}}}},
{"mark":{"type":"point","filled":true,"color":"#000080","size":45,"opacity":1},"encoding":{"x":{"field":"m","type":"quantitative","axis":null},"y":{"field":"c","type":"quantitative","axis":null}}},
{"data":{"values":[{"t":"15-a"}]},"mark":{"type":"text","font":"Liberation Sans","fontSize":33,"align":"left","baseline":"middle","color":"black"},"encoding":{"text":{"field":"t"},"x":{"datum":-1.08,"axis":null},"y":{"datum":79,"axis":null}}}
],"resolve":{"axis":{"x":"independent","y":"independent"}}},
{"width":282.5,"height":170,"data":{"name":"d"},"transform":[{"filter":"datum.p=='12-d'"}],"layer":[
{"mark":{"type":"rect","fill":"#c8c8c8","stroke":"black","strokeWidth":2.5},"encoding":{"x":{"field":"lo","type":"quantitative","scale":{"domain":[-1.5,4.5],"nice":false},"axis":{"orient":"top","values":[-1,-0.5,0,0.5,1,1.5,2,2.5,3,3.5,4],"labels":false,"title":null}},"x2":{"field":"hi"},"y":{"field":"h","type":"quantitative","scale":{"domain":[0,100],"nice":false},"axis":{"orient":"left","values":[20,40,60,80],"title":null}},"y2":{"datum":0}}},
{"mark":{"type":"line","color":"#2e2e99","strokeWidth":1.2},"encoding":{"x":{"field":"m","type":"quantitative","scale":{"domain":[-1.5,4.5],"nice":false},"axis":{"orient":"bottom","values":[-1,-0.5,0,0.5,1,1.5,2,2.5,3,3.5,4],"labelExpr":"datum.value % 1 == 0 ? '' + datum.value : ''","title":null}},"y":{"field":"c","type":"quantitative","scale":{"domain":[0,100],"nice":false},"axis":{"orient":"right","values":[20,40,60,80],"title":null}}}},
{"mark":{"type":"point","filled":true,"color":"#000080","size":45,"opacity":1},"encoding":{"x":{"field":"m","type":"quantitative","axis":null},"y":{"field":"c","type":"quantitative","axis":null}}},
{"data":{"values":[{"t":"12-d"}]},"mark":{"type":"text","font":"Liberation Sans","fontSize":33,"align":"left","baseline":"middle","color":"black"},"encoding":{"text":{"field":"t"},"x":{"datum":-1.08,"axis":null},"y":{"datum":79,"axis":null}}}
],"resolve":{"axis":{"x":"independent","y":"independent"}}},
{"width":282.5,"height":170,"view":{"stroke":null},"data":{"values":[]},"mark":{"type":"point"},"encoding":{}},
{"width":282.5,"height":170,"data":{"name":"d"},"transform":[{"filter":"datum.p=='15-b'"}],"layer":[
{"mark":{"type":"rect","fill":"#c8c8c8","stroke":"black","strokeWidth":2.5},"encoding":{"x":{"field":"lo","type":"quantitative","scale":{"domain":[-1.5,4.5],"nice":false},"axis":{"orient":"top","values":[-1,-0.5,0,0.5,1,1.5,2,2.5,3,3.5,4],"labels":false,"title":null}},"x2":{"field":"hi"},"y":{"field":"h","type":"quantitative","scale":{"domain":[0,100],"nice":false},"axis":{"orient":"left","values":[20,40,60,80],"title":null}},"y2":{"datum":0}}},
{"mark":{"type":"line","color":"#2e2e99","strokeWidth":1.2},"encoding":{"x":{"field":"m","type":"quantitative","scale":{"domain":[-1.5,4.5],"nice":false},"axis":{"orient":"bottom","values":[-1,-0.5,0,0.5,1,1.5,2,2.5,3,3.5,4],"labelExpr":"datum.value % 1 == 0 ? '' + datum.value : ''","title":null}},"y":{"field":"c","type":"quantitative","scale":{"domain":[0,100],"nice":false},"axis":{"orient":"right","values":[20,40,60,80],"title":null}}}},
{"mark":{"type":"point","filled":true,"color":"#000080","size":45,"opacity":1},"encoding":{"x":{"field":"m","type":"quantitative","axis":null},"y":{"field":"c","type":"quantitative","axis":null}}},
{"data":{"values":[{"t":"15-b"}]},"mark":{"type":"text","font":"Liberation Sans","fontSize":33,"align":"left","baseline":"middle","color":"black"},"encoding":{"text":{"field":"t"},"x":{"datum":-1.08,"axis":null},"y":{"datum":79,"axis":null}}}
],"resolve":{"axis":{"x":"independent","y":"independent"}}}
]}
]
}
